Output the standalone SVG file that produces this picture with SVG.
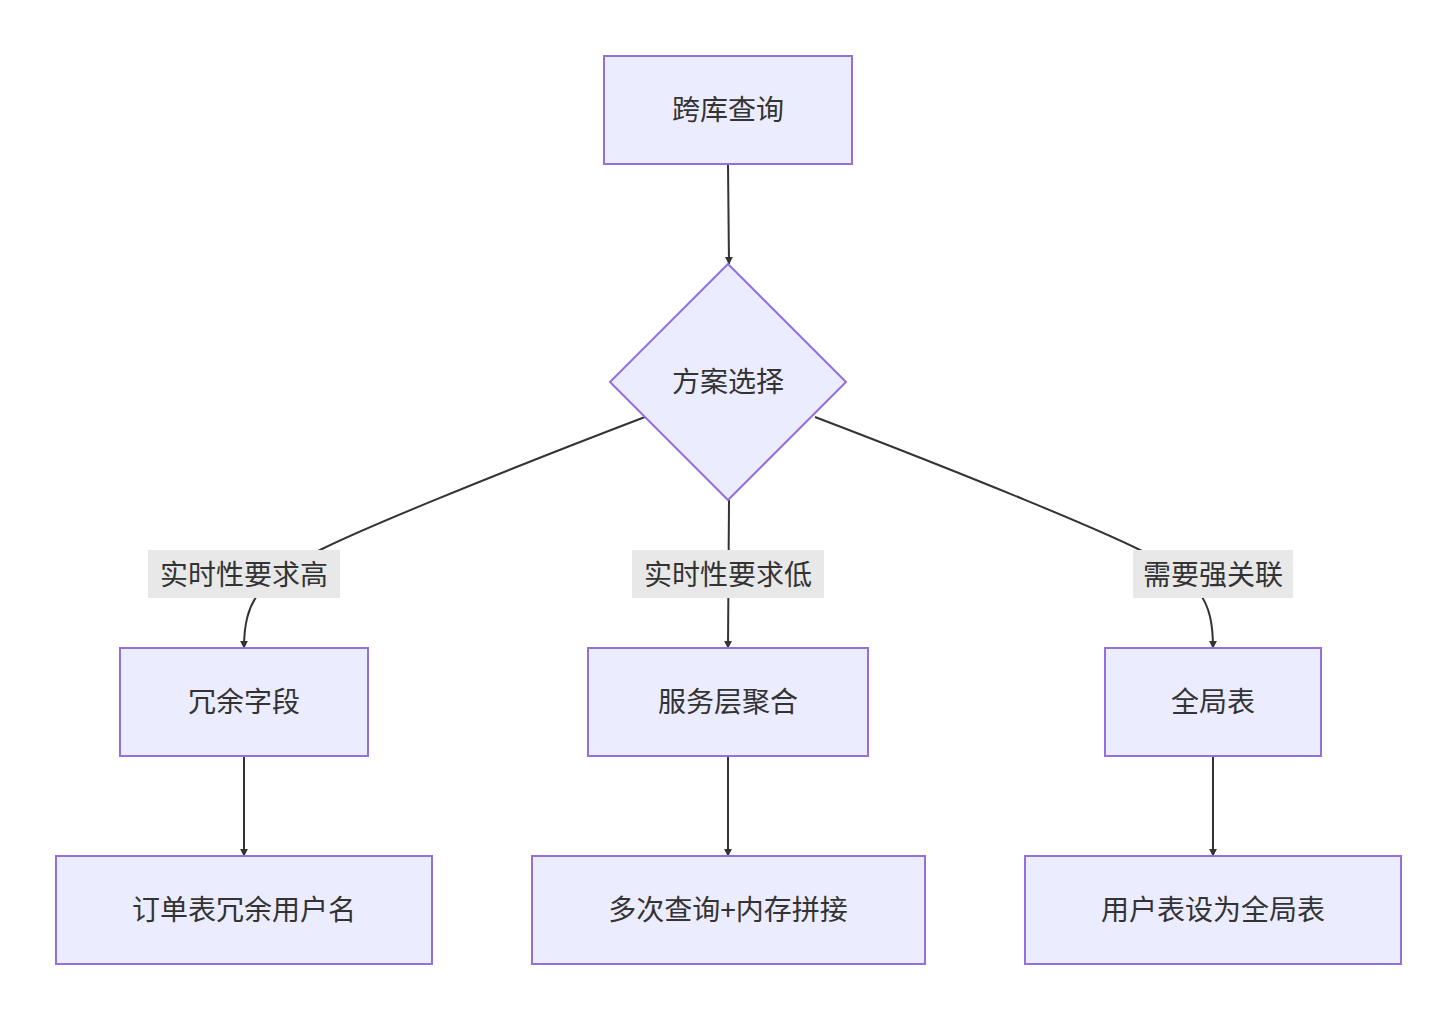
<svg xmlns="http://www.w3.org/2000/svg" width="1456" height="1020" viewBox="0 0 1456 1020">
<defs>
<marker id="ah" viewBox="0 0 10 10" refX="9" refY="5" markerWidth="8" markerHeight="8" markerUnits="userSpaceOnUse" orient="auto"><path d="M0,0L10,5L0,10z" fill="#333"/></marker>
<style>
.n{fill:#ECECFF;stroke:#9370DB;stroke-width:2}
.t{font-family:"Noto Sans CJK SC","Liberation Sans",sans-serif;font-size:28px;fill:#333;text-anchor:middle;dominant-baseline:central}
.e{fill:none;stroke:#333;stroke-width:2;marker-end:url(#ah)}
.lb{fill:#e8e8e8}
</style>
</defs>
<rect width="1456" height="1020" fill="#fff"/>
<g id="edges">
<path class="e" d="M728,164L729,264"/>
<path class="e" d="M645,417C480,480 360,530 320,550C260,580 244,600 244,648"/>
<path class="e" d="M729,500L728,648"/>
<path class="e" d="M815,417C980,480 1100,530 1140,550C1200,580 1213,600 1213,648"/>
<path class="e" d="M244,756L244,856"/>
<path class="e" d="M728,756L728,856"/>
<path class="e" d="M1213,756L1213,856"/>
<rect class="lb" x="148" y="550" width="192" height="48"/><text class="t" x="244" y="573">实时性要求高</text>
<rect class="lb" x="632" y="550" width="192" height="48"/><text class="t" x="728" y="573">实时性要求低</text>
<rect class="lb" x="1133" y="550" width="160" height="48"/><text class="t" x="1213" y="573">需要强关联</text>
</g>
<g id="A"><rect class="n" x="604" y="56" width="248" height="108"/><text class="t" x="728" y="108">跨库查询</text></g>
<g id="B"><polygon class="n" points="728,264 846,382 728,500 610,382"/><text class="t" x="728" y="380">方案选择</text></g>
<g id="C"><rect class="n" x="120" y="648" width="248" height="108"/><text class="t" x="244" y="700">冗余字段</text></g>
<g id="D"><rect class="n" x="588" y="648" width="280" height="108"/><text class="t" x="728" y="700">服务层聚合</text></g>
<g id="E"><rect class="n" x="1105" y="648" width="216" height="108"/><text class="t" x="1213" y="700">全局表</text></g>
<g id="F"><rect class="n" x="56" y="856" width="376" height="108"/><text class="t" x="244" y="908">订单表冗余用户名</text></g>
<g id="G"><rect class="n" x="532" y="856" width="393" height="108"/><text class="t" x="728" y="908">多次查询+内存拼接</text></g>
<g id="H"><rect class="n" x="1025" y="856" width="376" height="108"/><text class="t" x="1213" y="908">用户表设为全局表</text></g>
</svg>
